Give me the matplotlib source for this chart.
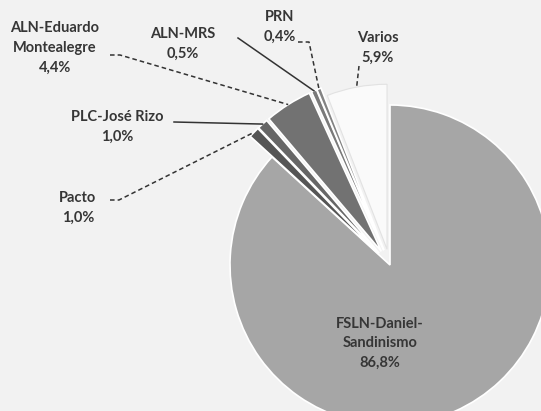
import numpy as np
import matplotlib.pyplot as plt

# vote shares (%)
labels = ['FSLN-Daniel-\nSandinismo', 'Pacto', 'PLC-José Rizo',
          'ALN-Eduardo\nMontealegre', 'ALN-MRS', 'PRN', 'Varios']
values = [86.8, 1.0, 1.0, 4.4, 0.5, 0.4, 5.9]
pct_text = ['86,8%', '1,0%', '1,0%', '4,4%', '0,5%', '0,4%', '5,9%']
colors = ['#a6a6a6', '#555555', '#666666', '#727272', '#7a7a7a', '#838383', '#fafafa']

W, H = 541, 411
fig = plt.figure(figsize=(W / 100, H / 100), dpi=100)
fig.patch.set_facecolor('#f2f2f2')
ax = fig.add_axes([0, 0, 1, 1])

wedges, _ = ax.pie(values, colors=colors, startangle=90, counterclock=False,
                   center=(390, H - 265), radius=160,
                   explode=[0] + [16] * 6,
                   wedgeprops=dict(edgecolor='white', linewidth=1.2))
ax.set_xlim(0, W)
ax.set_ylim(0, H)
ax.axis('off')
for w in wedges[1:6]:
    w.set_radius(174)
wedges[6].set_radius(165)
wedges[6].set_edgecolor('#e2e2e2')
wedges[6].set_linewidth(0.8)

# label placement (pixel coords from top-left), leader start points, style
text_pos = [(380, 343), (78, 208), (117, 127), (55, 48), (183, 44), (280, 27), (378, 48)]
leader_start = [None, [(110, 200), (119, 200)], [(174, 122)], [(110, 55), (120, 55)],
                [(238, 38)], [(298, 42), (309, 42)], [(359, 66)]]
leader_style = [None, '--', '-', '--', '-', '--', '--']

font = dict(family=['Lato', 'DejaVu Sans'], fontsize=10.5, fontweight='bold', color='#363636')

for i, w in enumerate(wedges):
    tx, ty = text_pos[i]
    ax.text(tx, H - ty, labels[i] + '\n' + pct_text[i], ha='center', va='center',
            linespacing=1.5, **font)
    if leader_start[i] is None:
        continue
    ang = np.deg2rad((w.theta1 + w.theta2) / 2)
    cx, cy = w.center
    ex, ey = cx + w.r * np.cos(ang), cy + w.r * np.sin(ang)
    xs = [p[0] for p in leader_start[i]] + [ex]
    ys = [H - p[1] for p in leader_start[i]] + [ey]
    ax.plot(xs, ys, leader_style[i], color='#333333', lw=1.1,
            dashes=(3, 2) if leader_style[i] == '--' else (None, None))

fig.savefig('out.png', dpi=100, facecolor=fig.get_facecolor())
